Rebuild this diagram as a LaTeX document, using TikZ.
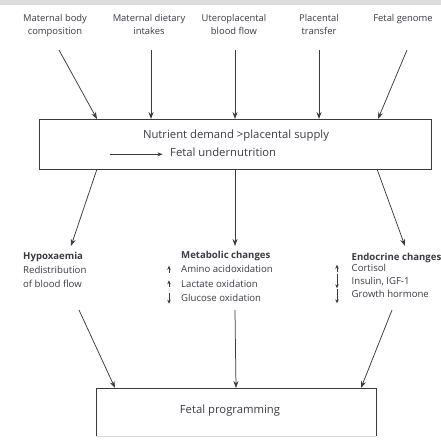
\documentclass[tikz,border=0pt]{standalone}
\usepackage{fontspec}
\setmainfont{Open Sans}
\usetikzlibrary{arrows.meta}
\definecolor{ink}{HTML}{3A3A44}
\definecolor{band}{HTML}{DCDCDC}
\tikzset{
  lbl/.style={font=\fontsize{9.4}{13.4}\selectfont, text=ink, align=center, inner sep=0pt, anchor=base},
  txt/.style={font=\fontsize{9.6}{10}\selectfont, text=ink, anchor=base west, inner sep=0pt},
  btxt/.style={txt, font=\fontsize{9.6}{10}\selectfont\bfseries},
  boxtxt/.style={font=\fontsize{11.3}{14}\selectfont, text=ink, anchor=base, inner sep=0pt},
  arr/.style={draw=ink, line width=0.75pt, -{Stealth[length=7pt,width=5pt]}},
  ln/.style={draw=ink, line width=0.75pt},
  sarr/.style={draw=ink, line width=0.6pt, -{Stealth[length=4pt,width=3.5pt]}}
}
\begin{document}
\begin{tikzpicture}[x=1pt,y=-1pt]
\useasboundingbox (0,0) rectangle (441,445);
\fill[band] (0,0) rectangle (441,5);
% top labels
\node[lbl] (l1) at (55,21.3) {Maternal body};
\node[lbl] (l1b) at (55,34.7) {composition};
\node[lbl] (l2) at (149,21.3) {Maternal dietary};
\node[lbl] (l2b) at (149,34.7) {intakes};
\node[lbl] (l3) at (234,21.3) {Uteroplacental};
\node[lbl] (l3b) at (234,34.7) {blood flow};
\node[lbl] (l4) at (319,21.3) {Placental};
\node[lbl] (l4b) at (319,34.7) {transfer};
\node[lbl] (l5) at (403,21.3) {Fetal genome};
% main box
\node[draw=ink, line width=0.75pt, minimum width=392pt, minimum height=50pt, inner sep=0pt] (main) at (235,144) {};
\node[boxtxt] (nd) at (236,138.3) {Nutrient demand >placental supply};
\node[boxtxt, anchor=base west] (fu) at (170,156.7) {Fetal undernutrition};
\coordinate (fa) at (110,154.3);
\draw[ln, shorten >=7.5pt, -{Stealth[length=5pt,width=4pt]}] (fa) -- (fu.west |- fa);
% arrows in
\coordinate (s1) at (59,50); \coordinate (e1) at (97,119);
\coordinate (s2) at (151,50); \coordinate (e2) at (151,119);
\coordinate (s3) at (235,50); \coordinate (e3) at (235,119);
\coordinate (s4) at (319,50); \coordinate (e4) at (319,119);
\coordinate (s5) at (407,50); \coordinate (e5) at (378,119);
\draw[arr] (s1) -- (e1);
\draw[arr] (s2) -- (e2);
\draw[arr] (s3) -- (e3);
\draw[arr] (s4) -- (e4);
\draw[arr] (s5) -- (e5);
% arrows out
\coordinate (o1) at (97,169); \coordinate (t1) at (71,246);
\coordinate (o2) at (235,169); \coordinate (t2) at (235,246);
\coordinate (o3) at (377,169); \coordinate (t3) at (405,246);
\draw[arr] (o1) -- (t1);
\draw[arr] (o2) -- (t2);
\draw[arr] (o3) -- (t3);
% Hypoxaemia
\node[btxt] (h0) at (23,259) {Hypoxaemia};
\node[txt] (h1) at (23,273.3) {Redistribution};
\node[txt] (h2) at (23,287.7) {of blood flow};
% Metabolic
\node[btxt] (m0) at (181,258.3) {Metabolic changes};
\node[txt] (m1) at (181,272.7) {Amino acidoxidation};
\node[txt] (m2) at (181,287.3) {Lactate oxidation};
\node[txt] (m3) at (181,301.7) {Glucose oxidation};
\draw[sarr] ([xshift=-12pt]m1.base west) -- ++(0,-7);
\draw[sarr] ([xshift=-12pt]m2.base west) -- ++(0,-7);
\draw[sarr] ([xshift=-12pt]m3.base west) ++(0,-9) -- ++(0,11);
% Endocrine
\node[btxt] (d0) at (351.5,260) {Endocrine changes};
\node[txt] (d1) at (351.5,271.7) {Cortisol};
\node[txt] (d2) at (351.5,284.3) {Insulin, IGF-1};
\node[txt] (d3) at (351.5,297.3) {Growth hormone};
\draw[sarr] ([xshift=-14.5pt]d1.base west) -- ++(0,-7);
\draw[sarr] ([xshift=-14.5pt]d2.base west) ++(0,-10) -- ++(0,14);
\draw[sarr] ([xshift=-14.5pt]d3.base west) ++(0,-8) -- ++(0,14);
% lower arrows
\coordinate (u1) at (79,310); \coordinate (v1) at (115,388);
\coordinate (u2) at (235,310); \coordinate (v2) at (236,388);
\coordinate (u3) at (392,310); \coordinate (v3) at (361,388);
\draw[arr] (u1) -- (v1);
\draw[arr] (u2) -- (v2);
\draw[arr] (u3) -- (v3);
% bottom box (cut off at the bottom)
\coordinate (fpbl) at (96,436); \coordinate (fptl) at (96,388);
\coordinate (fptr) at (376,388); \coordinate (fpbr) at (376,436);
\draw[ln] (fpbl) -- (fptl) -- (fptr) -- (fpbr);
\draw[band, line width=0.75pt] (fpbl) -- (fpbr);
\node[boxtxt] (fp) at (230,413.3) {Fetal programming};
\end{tikzpicture}
\end{document}
